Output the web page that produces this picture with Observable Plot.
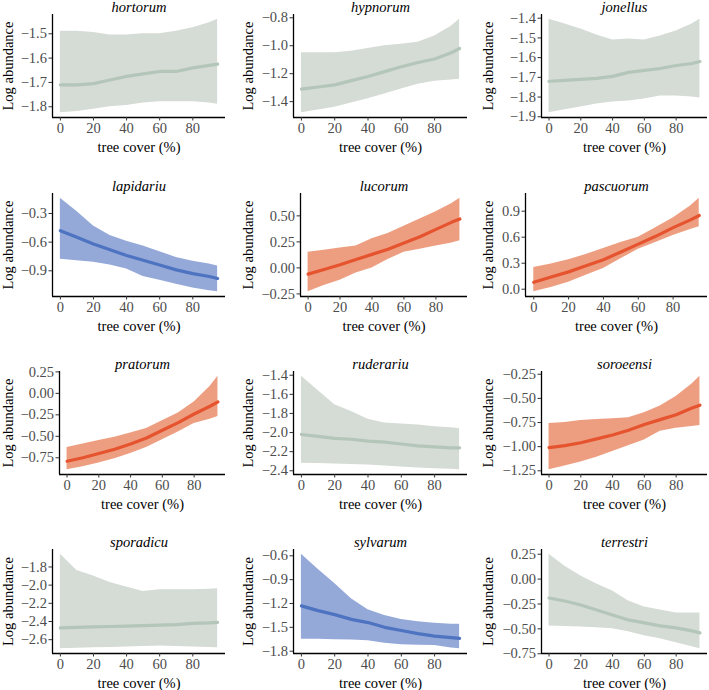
<!DOCTYPE html>
<html>
<head>
<meta charset="utf-8">
<script src="https://cdn.jsdelivr.net/npm/d3@7"></script>
<script src="https://cdn.jsdelivr.net/npm/@observablehq/plot@0.6"></script>
<style>
  html, body { margin: 0; padding: 0; background: #fff; }
  #chart { position: relative; width: 709px; height: 690px; overflow: hidden; background: #fff; }
  #chart svg { position: absolute; overflow: visible; }
</style>
</head>
<body>
<div id="chart"></div>
<script>
// ---------- data ----------
const treeCover = [0, 10, 20, 30, 40, 50, 60, 70, 80, 90, 95];
const xTicks = [0, 20, 40, 60, 80];

const species = ["hortorum","hypnorum","jonellus","lapidariu","lucorum","pascuorum",
                 "pratorum","ruderariu","soroeensi","sporadicu","sylvarum","terrestri"];

// response type: "none" (grey), "neg" (blue), "pos" (orange)
const effect = ["none","none","none","neg","pos","pos","pos","none","pos","none","neg","none"];

const fitHortorum = [-1.71,-1.71,-1.705,-1.69,-1.675,-1.665,-1.655,-1.655,-1.64,-1.63,-1.625];
const loHortorum  = [-1.825,-1.82,-1.81,-1.80,-1.795,-1.785,-1.78,-1.78,-1.78,-1.785,-1.79];
const hiHortorum  = [-1.49,-1.49,-1.495,-1.505,-1.505,-1.50,-1.50,-1.49,-1.475,-1.455,-1.44];

const fitHypnorum = [-1.31,-1.295,-1.28,-1.25,-1.22,-1.185,-1.15,-1.12,-1.095,-1.05,-1.02];
const loHypnorum  = [-1.48,-1.46,-1.44,-1.41,-1.38,-1.345,-1.31,-1.275,-1.255,-1.245,-1.24];
const hiHypnorum  = [-1.05,-1.05,-1.05,-1.04,-1.02,-1.0,-0.99,-0.975,-0.93,-0.86,-0.81];

const fitJonellus = [-1.72,-1.715,-1.71,-1.705,-1.695,-1.675,-1.665,-1.655,-1.64,-1.63,-1.62];
const loJonellus  = [-1.88,-1.865,-1.85,-1.835,-1.825,-1.82,-1.81,-1.795,-1.795,-1.80,-1.805];
const hiJonellus  = [-1.405,-1.43,-1.455,-1.485,-1.51,-1.505,-1.51,-1.49,-1.465,-1.43,-1.405];

const fitLapidariu = [-0.48,-0.55,-0.62,-0.68,-0.74,-0.79,-0.84,-0.89,-0.93,-0.96,-0.98];
const loLapidariu  = [-0.78,-0.795,-0.81,-0.84,-0.88,-0.96,-1.0,-1.04,-1.08,-1.11,-1.12];
const hiLapidariu  = [-0.14,-0.28,-0.43,-0.53,-0.59,-0.64,-0.70,-0.76,-0.80,-0.83,-0.85];

const fitLucorum = [-0.06,-0.015,0.03,0.08,0.13,0.18,0.24,0.30,0.37,0.44,0.47];
const loLucorum  = [-0.23,-0.17,-0.12,-0.05,0.0,0.08,0.15,0.18,0.21,0.24,0.26];
const hiLucorum  = [0.15,0.17,0.19,0.21,0.28,0.33,0.40,0.47,0.54,0.62,0.67];

const fitPascuorum = [0.08,0.14,0.2,0.27,0.34,0.43,0.52,0.61,0.71,0.80,0.85];
const loPascuorum  = [-0.03,0.02,0.08,0.16,0.24,0.35,0.46,0.54,0.62,0.69,0.72];
const hiPascuorum  = [0.25,0.29,0.34,0.40,0.47,0.54,0.60,0.71,0.82,0.96,1.05];

const fitPratorum = [-0.79,-0.75,-0.7,-0.65,-0.59,-0.52,-0.43,-0.34,-0.24,-0.15,-0.10];
const loPratorum  = [-0.89,-0.855,-0.81,-0.76,-0.70,-0.63,-0.54,-0.45,-0.35,-0.30,-0.27];
const hiPratorum  = [-0.63,-0.59,-0.55,-0.51,-0.46,-0.41,-0.32,-0.23,-0.10,0.08,0.20];

const fitRuderariu = [-2.02,-2.04,-2.06,-2.07,-2.09,-2.10,-2.12,-2.14,-2.15,-2.16,-2.16];
const loRuderariu  = [-2.32,-2.325,-2.33,-2.335,-2.34,-2.35,-2.36,-2.37,-2.38,-2.385,-2.39];
const hiRuderariu  = [-1.41,-1.56,-1.71,-1.78,-1.86,-1.90,-1.91,-1.92,-1.94,-1.95,-1.96];

const fitSoroeensi = [-1.01,-0.99,-0.96,-0.92,-0.88,-0.83,-0.77,-0.72,-0.67,-0.60,-0.57];
const loSoroeensi  = [-1.24,-1.2,-1.16,-1.11,-1.05,-0.99,-0.93,-0.84,-0.81,-0.79,-0.78];
const hiSoroeensi  = [-0.76,-0.75,-0.73,-0.72,-0.71,-0.70,-0.65,-0.58,-0.48,-0.35,-0.27];

const fitSporadicu = [-2.47,-2.465,-2.46,-2.455,-2.45,-2.445,-2.44,-2.435,-2.42,-2.415,-2.41];
const loSporadicu  = [-2.70,-2.695,-2.69,-2.685,-2.68,-2.675,-2.67,-2.675,-2.68,-2.685,-2.69];
const hiSporadicu  = [-1.66,-1.84,-1.90,-1.97,-2.02,-2.07,-2.05,-2.05,-2.05,-2.045,-2.04];

const fitSylvarum = [-1.23,-1.29,-1.34,-1.40,-1.44,-1.50,-1.54,-1.58,-1.61,-1.63,-1.64];
const loSylvarum  = [-1.65,-1.65,-1.655,-1.66,-1.67,-1.70,-1.72,-1.725,-1.73,-1.76,-1.77];
const hiSylvarum  = [-0.58,-0.77,-0.95,-1.14,-1.28,-1.35,-1.40,-1.43,-1.45,-1.46,-1.46];

const fitTerrestri = [-0.19,-0.22,-0.26,-0.31,-0.36,-0.41,-0.44,-0.47,-0.49,-0.52,-0.54];
const loTerrestri  = [-0.47,-0.475,-0.48,-0.49,-0.50,-0.53,-0.57,-0.60,-0.64,-0.68,-0.70];
const hiTerrestri  = [0.25,0.13,0.03,-0.05,-0.12,-0.22,-0.28,-0.31,-0.34,-0.34,-0.34];

const yTicksHortorum  = [-1.8,-1.7,-1.6,-1.5];
const yTicksHypnorum  = [-1.4,-1.2,-1.0,-0.8];
const yTicksJonellus  = [-1.9,-1.8,-1.7,-1.6,-1.5,-1.4];
const yTicksLapidariu = [-0.9,-0.6,-0.3];
const yTicksLucorum   = [-0.25,0,0.25,0.5];
const yTicksPascuorum = [0,0.3,0.6,0.9];
const yTicksPratorum  = [-0.75,-0.5,-0.25,0,0.25];
const yTicksRuderariu = [-2.4,-2.2,-2.0,-1.8,-1.6,-1.4];
const yTicksSoroeensi = [-1.25,-1,-0.75,-0.5,-0.25];
const yTicksSporadicu = [-2.6,-2.4,-2.2,-2.0,-1.8];
const yTicksSylvarum  = [-1.8,-1.5,-1.2,-0.9,-0.6];
const yTicksTerrestri = [-0.75,-0.5,-0.25,0,0.25];
const yDecimals = [1,1,1,1,2,1,2,1,2,1,1,2];

const xLabel = "tree cover (%)";
const yLabel = "Log abundance";

// ---------- assembly ----------
const fits = [fitHortorum,fitHypnorum,fitJonellus,fitLapidariu,fitLucorum,fitPascuorum,
              fitPratorum,fitRuderariu,fitSoroeensi,fitSporadicu,fitSylvarum,fitTerrestri];
const los  = [loHortorum,loHypnorum,loJonellus,loLapidariu,loLucorum,loPascuorum,
              loPratorum,loRuderariu,loSoroeensi,loSporadicu,loSylvarum,loTerrestri];
const his  = [hiHortorum,hiHypnorum,hiJonellus,hiLapidariu,hiLucorum,hiPascuorum,
              hiPratorum,hiRuderariu,hiSoroeensi,hiSporadicu,hiSylvarum,hiTerrestri];
const yTicks = [yTicksHortorum,yTicksHypnorum,yTicksJonellus,yTicksLapidariu,yTicksLucorum,yTicksPascuorum,
                yTicksPratorum,yTicksRuderariu,yTicksSoroeensi,yTicksSporadicu,yTicksSylvarum,yTicksTerrestri];

// ---------- layout & style ----------
const palette = {
  none: {fill: "#d5dbd5", line: "#b4c6b9"},
  neg:  {fill: "#95a9d9", line: "#4d73c1"},
  pos:  {fill: "#ee9e80", line: "#e5532f"}
};
const colStart = [0, 236, 472];
const colRight = [225, 467, 707];
const yLabelX  = [8, 248, 488];
const rowTop    = [14, 193, 371, 549];
const rowBottom = [117, 296, 474, 653];
const frameLeft = [52, 293, 541, 52, 300, 525, 59, 293, 541, 52, 293, 541];
const FONT = "'Liberation Serif', 'Times New Roman', serif";

const chart = document.getElementById("chart");
const minus = s => s.replace("-", "\u2212");

species.forEach((name, i) => {
  const col = i % 3, row = Math.floor(i / 3);
  const data = treeCover.map((x, k) => ({x, fit: fits[i][k], lo: los[i][k], hi: his[i][k]}));
  const yMin = d3.min(los[i]), yMax = d3.max(his[i]);
  const r = yMax - yMin;
  const yDomain = [yMin - 0.05 * r, yMax + 0.05 * r];
  const xDomain = [-4.75, 99.75];

  const mTop = 24, mBottom = 44, mRight = 2;
  const mLeft = frameLeft[i] - colStart[col];
  const width = colRight[col] + mRight - colStart[col];
  const height = rowBottom[row] - rowTop[row] + mTop + mBottom;
  const col_ = palette[effect[i]];
  const dec = yDecimals[i];

  const svg = Plot.plot({
    width, height,
    marginLeft: mLeft, marginRight: mRight, marginTop: mTop, marginBottom: mBottom,
    x: {domain: xDomain},
    y: {domain: yDomain},
    style: {fontFamily: FONT, background: "transparent", color: "#000"},
    marks: [
      Plot.areaY(data, {x: "x", y1: "lo", y2: "hi", fill: col_.fill, fillOpacity: 1}),
      Plot.line(data, {x: "x", y: "fit", stroke: col_.line, strokeWidth: 3.2}),
      Plot.ruleY([yDomain[0]], {stroke: "#000", strokeWidth: 1.3}),
      Plot.ruleX([xDomain[0]], {stroke: "#000", strokeWidth: 1.3}),
      Plot.axisX({ticks: xTicks, tickSize: 3.5, tickPadding: 2, label: null,
                  fontSize: 14.5, stroke: "#333", fill: "#4d4d4d", tickFormat: d => String(d)}),
      Plot.axisY({ticks: yTicks[i], tickSize: 3.5, tickPadding: 2, label: null,
                  fontSize: 14.5, stroke: "#333", fill: "#4d4d4d",
                  tickFormat: d => minus(d3.format("." + dec + "f")(d))}),
      Plot.text([name], {frameAnchor: "top", dy: -3, lineAnchor: "bottom",
                         fontStyle: "italic", fontSize: 14.5, fill: "#000"}),
      Plot.text([xLabel], {frameAnchor: "bottom", dy: 30, lineAnchor: "middle",
                           fontSize: 14.5, fill: "#000"}),
      Plot.text([yLabel], {frameAnchor: "left", dx: yLabelX[col] - frameLeft[i],
                           textAnchor: "middle", lineAnchor: "middle",
                           rotate: -90, fontSize: 14.5, fill: "#000"})
    ]
  });
  svg.style.left = colStart[col] + "px";
  svg.style.top = (rowTop[row] - mTop) + "px";
  chart.appendChild(svg);
});
</script>
</body>
</html>
